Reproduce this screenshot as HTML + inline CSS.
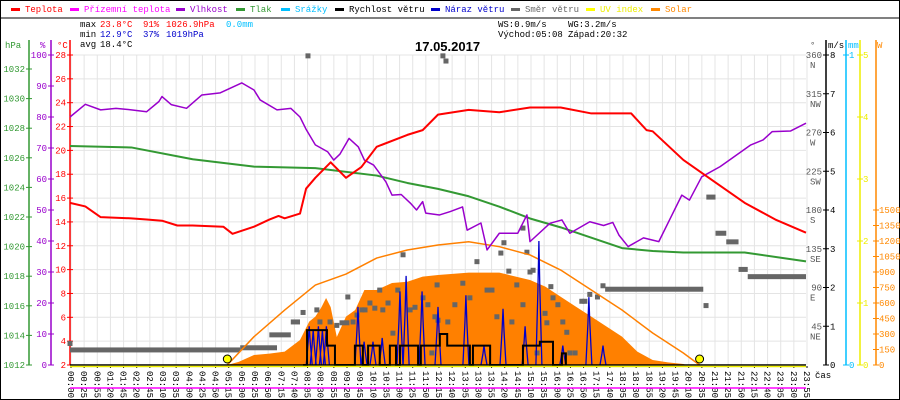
<!DOCTYPE html>
<html><head><meta charset="utf-8"><style>
html,body{margin:0;padding:0;background:#fff;}
svg{display:block;font-family:"Liberation Mono",monospace;}
</style></head><body>
<svg id="chart" width="900" height="400" viewBox="0 0 900 400" xmlns="http://www.w3.org/2000/svg">
<rect x="0.5" y="0.5" width="899" height="399" fill="#fff" stroke="#000"/>
<line x1="0" y1="18" x2="900" y2="18" stroke="#000"/>
<g id="grid"></g>
<g id="legend" font-size="9"></g>
<g font-size="9">
<text x="80" y="27" fill="#000">max</text><text x="100" y="27" fill="#f00">23.8°C</text><text x="143" y="27" fill="#f00">91%</text><text x="166" y="27" fill="#f00">1026.9hPa</text><text x="226" y="27" fill="#00bfff">0.0mm</text>
<text x="80" y="37" fill="#000">min</text><text x="100" y="37" fill="#00c">12.9°C</text><text x="143" y="37" fill="#00c">37%</text><text x="166" y="37" fill="#00c">1019hPa</text>
<text x="80" y="47" fill="#000">avg</text><text x="100" y="47" fill="#000">18.4°C</text>
<text x="498" y="27" fill="#000">WS:0.9m/s</text><text x="568" y="27" fill="#000">WG:3.2m/s</text>
<text x="498" y="37" fill="#000">Východ:05:08</text><text x="568" y="37" fill="#000">Západ:20:32</text>
</g>
<text x="415" y="51" font-size="13" font-weight="bold" font-family="Liberation Sans, sans-serif">17.05.2017</text>
<g id="axes" font-size="9"></g>
<g id="series"></g>
</svg>
<script>
const NS="http://www.w3.org/2000/svg";
// ---- data ----
const timeLabels=["00:00","00:25","00:55","01:20","01:45","02:20","02:45","03:10","03:35","04:00","04:25","04:50","05:15","06:00","06:25","06:50","07:15","07:40","08:05","08:30","08:55","09:20","09:45","10:10","10:35","11:00","11:25","11:50","12:15","12:40","13:05","13:30","13:55","14:20","14:45","15:10","15:35","16:00","16:25","16:50","17:15","17:40","18:05","18:30","18:55","19:20","19:45","20:10","20:35","21:00","21:25","21:50","22:15","22:40","23:05","23:30","23:55"];
const tempHours=[0,0.5,1,2,2.5,3,3.5,4,5,5.3,6,6.5,6.8,7,7.5,7.7,8,8.5,9,9.5,10,11,11.5,12,13,14,15,16,17,18,18.3,18.8,19,20,21,22,23,24];
const tempValues=[15.6,15.3,14.4,14.3,14.2,14.1,13.7,13.7,13.6,13.0,13.6,14.2,14.5,14.3,14.7,16.8,17.7,19.0,17.7,18.6,20.3,21.3,21.7,23.0,23.4,23.2,23.6,23.6,23.1,23.1,23.1,21.7,21.6,19.2,17.4,15.6,14.2,13.1];
const humHours=[0,0.5,1,1.5,2,2.5,2.9,3,3.3,3.8,4.3,4.9,5.6,6,6.2,6.75,7.2,7.5,7.7,8,8.4,8.6,8.8,9.1,9.4,9.6,9.9,10.3,10.5,10.8,11.1,11.3,11.5,11.6,12.05,12.4,12.8,12.95,13.4,13.6,14,14.6,14.9,15,15.65,16.04,16.3,16.95,17.4,17.7,17.9,18.2,18.7,19.2,19.6,19.95,20.2,20.6,21.2,21.5,22.2,22.6,22.9,23.5,24];
const humValues=[80,84.1,82.3,82.8,82.3,81.7,85,86.6,84,82.8,87.1,87.8,91,88.7,85.5,82.3,82.8,80,76,71,68.8,66.1,68,73.1,70.4,66.1,64.5,59.1,54.8,55,52.2,50,52.7,49,48.4,49.5,51,43.5,45.8,37.1,42.5,42.5,48.4,39.8,45.7,46.8,42.5,46.2,45,46,41.9,38.2,41,39.8,47.8,54.8,53.2,60.7,64,66.1,71,72.6,75.3,75.5,78];
const pressHours=[0,2,4,6,8,10,11,12,13,14,15,16,17,18,19,20,22,24];
const pressValues=[1026.8,1026.7,1025.9,1025.4,1025.3,1024.8,1024.3,1023.9,1023.4,1022.7,1021.9,1021.3,1020.6,1019.9,1019.7,1019.6,1019.6,1019.0];
const solarHours=[5.13,5.5,6,6.5,7,7.5,7.8,8,8.2,8.35,8.5,8.7,9,9.3,9.6,10,10.5,11,11.5,12,13,14,15,15.5,16,16.5,17,17.5,18,18.5,19,19.5,20,20.1];
const solarValues=[0,30,97,110,129,242,420,468,560,648,560,271,468,532,726,726,794,806,855,871,894,894,823,758,661,564,468,371,274,129,48,25,10,0];
const clearHours=[5.13,6,7,8,9,10,11,12,13,14,15,16,17,18,19,20,20.53];
const clearValues=[0,274,532,774,880,1035,1113,1161,1193,1145,1065,919,726,532,310,116,0];
const windHours=[7.6,7.73,8.38,8.64,9.29,9.55,9.72,10.1,10.43,10.63,10.76,11.35,11.44,11.97,12.06,12.3,13.04,13.14,13.7,14.77,15.32,15.75,16.04,16.17];
const windSpeed=[0,0.9,0.5,0,0.5,0,0.5,0,0.5,0,0.5,0,0.5,0.5,0.8,0.5,0,0.5,0,0.5,0.6,0,0.3,0];
const gustHours=[7.8,7.93,8.1,8.23,8.36,9.39,9.59,9.88,10.18,10.76,10.96,11.48,12.0,12.91,13.5,14.12,14.84,15.29,16.07,16.92,17.38];
const gustValues=[1.0,0.9,1.0,0.9,1.0,1.5,0.6,0.6,0.7,1.9,2.3,1.9,1.5,1.8,0.5,1.45,1.0,3.2,0.5,1.75,0.5];
const dirSegStart=[0,5.55,6.5,7.2,17.45,20.75,21.05,21.4,21.8,22.1];
const dirSegEnd=[5.55,6.75,7.2,7.5,20.65,21.05,21.4,21.8,22.1,24];
const dirSegValue=[17.5,20,35,50,88,195,153,143,111,102.6];
const dirHours=[0,7.6,7.76,8.05,8.15,8.48,8.7,8.87,9.03,9.06,9.23,9.36,9.52,9.62,9.78,9.94,10.1,10.2,10.37,10.53,10.69,10.86,11.09,11.25,11.51,11.67,11.8,11.9,11.97,12.16,12.26,12.0,12.32,12.55,12.81,13.04,13.27,13.6,13.76,13.92,14.05,14.15,14.31,14.41,14.57,14.77,14.77,14.9,15.0,15.1,15.23,15.49,15.55,15.68,15.75,15.91,16.07,16.2,16.3,16.47,16.69,16.79,16.95,17.2,17.38,20.74];
const dirValues=[25,61,359,64,50,50,46,49,49,79,50,58,64,64,72,66,87,64,72,37,87,128,64,67,78,70,14,56,93,359,353,52,50,70,95,78,120,87,87,56,130,142,109,50,93,70,159,131,108,110,14,60,49,91,78,70,50,38,14,14,74,74,82,79,92,69];
const sunEvents=[5.13,20.53];
const tempTicks=[2,4,6,8,10,12,14,16,18,20,22,24,26,28];
const humTicks=[0,10,20,30,40,50,60,70,80,90,100];
const pressTicks=[1012,1014,1016,1018,1020,1022,1024,1026,1028,1030,1032];
const windTicks=[0,1,2,3,4,5,6,7,8];
const dirTickLabels=["","NE","E","SE","S","SW","W","NW","N"];
const uvTicks=[0,1,2,3,4,5];
const solarTicks=[0,150,300,450,600,750,900,1050,1200,1350,1500];
// ---- scales ----
const X0=70,X1=806,Y0=365;
const X=h=>X0+h/24*(X1-X0);
const T=t=>Y0-(t-2)*310/26;
const H=v=>Y0-v*3.1;
const P=p=>Y0-(p-1012)*14.8;
const V=v=>Y0-v*38.75;
const D=d=>Y0-d*310/360;
const W=w=>Y0-w*155/1500;
const U=u=>Y0-u*62;
function mk(tag,attrs,parent){const e=document.createElementNS(NS,tag);for(const k in attrs)e.setAttribute(k,attrs[k]);parent.appendChild(e);return e;}
const grid=document.getElementById('grid'),axes=document.getElementById('axes'),ser=document.getElementById('series'),leg=document.getElementById('legend');
// grid
tempTicks.forEach(t=>{const l=mk('line',{x1:X0,x2:X1,y1:T(t),y2:T(t),stroke:'#e4e4e4'},grid);

});
timeLabels.forEach((s,i)=>{const x=X0+1+i*(X1-X0)/56;
const l=mk('line',{x1:x,x2:x,y1:55,y2:Y0,stroke:'#e4e4e4'},grid);


const t=mk('text',{x:0,y:0,'font-size':9,transform:`translate(${x-3},371) rotate(90)`},axes);t.textContent=s;


mk('rect',{x:x-0.5,y:366,width:1,height:2,fill:'#000'},axes);});
// legend
const legItems=[["Teplota","#f00",25],["Přízemní teplota","#f0f",84],["Vlhkost","#90c",190],["Tlak","#393",250],["Srážky","#00bfff",295],["Rychlost větru","#000",349],["Náraz větru","#00c",445],["Směr větru","#666",525],["UV index","#ff0",600],["Solar","#f80",665]];
legItems.forEach(it=>{const g=mk('g',{},leg);


mk('rect',{x:it[2]-14,y:8,width:9,height:3,fill:it[1]},g);
const t=mk('text',{x:it[2],y:12,fill:it[1]==='#ff0'?'#ee0':it[1]},g);t.textContent=it[0];});
// axes
function axis(x,color,ticks,scale,lx,fmt,name,top){
const a=mk('line',{x1:x,x2:x,y1:top,y2:Y0,stroke:color,'stroke-width':1.5},axes);


ticks.forEach((v,i)=>{const y=scale(v);mk('line',{x1:x-3,x2:x+3,y1:y,y2:y,stroke:color},axes);
const t=mk('text',{x:lx,y:y+3,fill:color,'text-anchor':fmt},axes);t.textContent=v;});}
axis(29,'#393',pressTicks,P,25,'end','pressure-axis',40);
axis(51,'#90c',humTicks,H,47,'end','humidity-axis',40);
axis(70,'#f00',tempTicks,T,66,'end','temperature-axis',40);
[["hPa",5,'#393'],["%",40,'#90c'],["°C",57,'#f00']].forEach(u=>{const t=mk('text',{x:u[1],y:48,fill:u[2]},axes);t.textContent=u[0];

});
axis(826,'#000',windTicks,V,830,'start','wind-axis',40);
windTicks.forEach((v,i)=>{if(i===0)return;const t=mk('text',{x:822,y:V(v)+3,fill:'#555','text-anchor':'end'},axes);t.textContent=(v*45);
const t2=mk('text',{x:810,y:V(v)+13,fill:'#555'},axes);t2.textContent=dirTickLabels[i];});
axis(846,'#00bfff',[0,1],v=>Y0-v*310,849,'start','rain-axis',40);
axis(860,'#ee0',uvTicks,U,863,'start','uv-axis',40);
axis(876,'#f80',solarTicks,W,879,'start','solar-axis',40);
[["°",810,'#555'],["m/s",828,'#000'],["mm",848,'#00bfff'],["W",877,'#f80']].forEach(u=>{const t=mk('text',{x:u[1],y:48,fill:u[2]},axes);t.textContent=u[0];

});
// solar area
let d=`M${X(solarHours[0])},${Y0}`;solarHours.forEach((h,i)=>d+=`L${X(h)},${W(solarValues[i])}`);d+=`L${X(solarHours[solarHours.length-1])},${Y0}Z`;
const sa=mk('path',{d:d,fill:'#ff8000'},ser);


// direction
dirSegStart.forEach((s,i)=>{const r=mk('rect',{x:X(s),y:D(dirSegValue[i])-2.5,width:X(dirSegEnd[i])-X(s),height:5,fill:'#666'},ser);

});
dirHours.forEach((h,i)=>{const r=mk('rect',{x:X(h)-2.5,y:D(dirValues[i])-2.5,width:5,height:5,fill:'#666'},ser);

});
function line(hs,vs,sc,color,w,name){let p='';hs.forEach((h,i)=>p+=(i?'L':'M')+X(h)+','+sc(vs[i]));
const e=mk('path',{d:p,fill:'none',stroke:color,'stroke-width':w,'stroke-linejoin':'round'},ser);

return e;}
line(clearHours,clearValues,W,'#ff8000',1.5,'solar-max-line');
gustHours.forEach((h,i)=>{const x=X(h);const e=mk('path',{d:`M${x-3},${Y0}L${x-1},${V(gustValues[i]*0.6)}L${x},${V(gustValues[i])}L${x+1},${V(gustValues[i]*0.6)}L${x+3},${Y0}`,fill:'none',stroke:'#00c','stroke-width':1.3},ser);

});
{let p='';windHours.forEach((h,i)=>{if(i===0)p+=`M${X(h)},${V(windSpeed[i])}`;else p+=`L${X(h)},${V(windSpeed[i-1])}L${X(h)},${V(windSpeed[i])}`;});
const e=mk('path',{d:p,fill:'none',stroke:'#000','stroke-width':2},ser);

}
line(pressHours,pressValues,P,'#393',2,'pressure-line');
line(humHours,humValues,H,'#90c',1.5,'humidity-line');
line(tempHours,tempValues,T,'#f00',2,'temperature-line');
mk('line',{x1:X0,x2:X1,y1:Y0,y2:Y0,stroke:'#000','stroke-width':1.5},ser);
mk('line',{x1:X0,x2:X1,y1:366.5,y2:366.5,stroke:'#ee0','stroke-width':1.5},ser);
mk('line',{x1:X0,x2:X1,y1:388,y2:388,stroke:'#f0f','stroke-width':1.5},axes);
sunEvents.forEach(h=>{const c=mk('circle',{cx:X(h),cy:Y0-6,r:4,fill:'#ff0',stroke:'#000'},ser);

});
const tl=mk('text',{x:815,y:378},axes);tl.textContent='čas';
</script>
</body></html>
